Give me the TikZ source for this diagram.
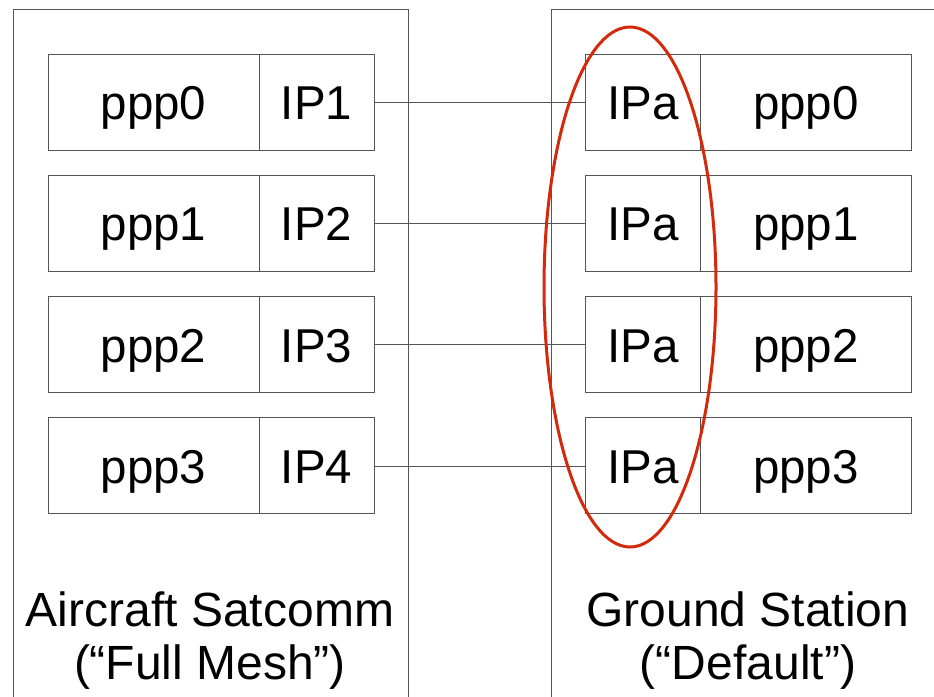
\documentclass[tikz,border=0pt]{standalone}
\usepackage{fontspec}
\setmainfont{Liberation Sans}
\usetikzlibrary{positioning}
\definecolor{linkgray}{HTML}{555555}
\definecolor{ringred}{HTML}{D42A0C}

\begin{document}
\begin{tikzpicture}
[x=1pt, y=-1pt,
cell/.style={rectangle, draw=linkgray, line width=1pt, minimum height=96pt, inner sep=0pt, text height=35pt, text depth=0pt, font=\fontsize{47.5}{54}\selectfont},
pppcell/.style={cell, minimum width=211pt},
ipcell/.style={cell, minimum width=115pt},
host/.style={draw=linkgray, line width=1pt},
hostlabel/.style={align=center, anchor=north, inner sep=0pt, font=\fontsize{48}{53}\selectfont},
link/.style={draw=linkgray, line width=0.8pt}]

\clip (0,0) rectangle (934,696);
\fill[white] (0,0) rectangle (934,696);

% the two hosts
\draw[host] (13,720) -- (13,9.5) -- (408,9.5) -- (408,720);
\draw[host] (551,720) -- (551,9.5) -- (960,9.5);

\foreach \i/\a in {0/1,1/2,2/3,3/4}{
  \node[pppcell] (air\i) at (153.5,{102+121.3*\i}) {ppp\i};
  \node[ipcell, right=-1pt of air\i] (airip\i) {IP\a};
  \node[ipcell] (gndip\i) at (643,{102+121.3*\i}) {IPa};
  \node[pppcell, right=-1pt of gndip\i] (gnd\i) {ppp\i};
  \draw[link] (airip\i.east) -- (gndip\i.west);
}

\node[hostlabel] (airlabel) at (210,592) {Aircraft Satcomm\\(“Full Mesh”)};
\node[hostlabel] (gndlabel) at (748,592) {Ground Station\\(“Default”)};

% all the IPa ends
\draw[ringred, line width=3pt] (630,287) ellipse [x radius=86, y radius=260];
\end{tikzpicture}
\end{document}
